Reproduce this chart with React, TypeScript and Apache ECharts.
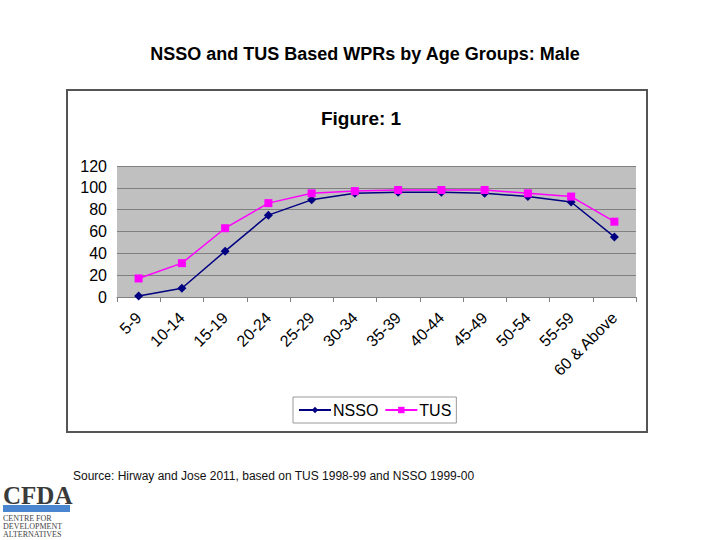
import React, { useEffect, useRef } from "react";
import * as echarts from "echarts";

const categories = ["5-9", "10-14", "15-19", "20-24", "25-29", "30-34", "35-39", "40-44", "45-49", "50-54", "55-59", "60 & Above"];
const nssoValues = [1, 8, 42, 75, 89, 95, 96, 96, 95, 92, 87, 55];
const tusValues = [17, 31, 63, 86, 95, 97, 98, 98, 98, 95, 92, 69];
const yTicks = [0, 20, 40, 60, 80, 100, 120];

export default function App() {
  const ref = useRef<HTMLDivElement>(null);
  useEffect(() => {
    const chart = echarts.init(ref.current!, null, { renderer: "svg" });
    chart.setOption({
      animation: false,
      backgroundColor: "#ffffff",
      textStyle: { fontFamily: "Liberation Sans, Arial, sans-serif" },
      title: [
        {
          text: "NSSO and TUS Based WPRs by Age Groups: Male",
          left: 360, top: 40, textAlign: "center",
          textStyle: { fontSize: 18, fontWeight: "bold", color: "#000", fontFamily: "Liberation Sans, Arial, sans-serif" },
        },
        {
          text: "Figure: 1",
          left: 356, top: 104, textAlign: "center",
          textStyle: { fontSize: 19, fontWeight: "bold", color: "#000", fontFamily: "Liberation Sans, Arial, sans-serif" },
        },
      ],
      graphic: [
        { type: "rect", shape: { x: 67, y: 90, width: 580, height: 342 }, style: { fill: "none", stroke: "#555", lineWidth: 2 }, z: -1 },
        {
          type: "text", x: 73, y: 470,
          style: { text: "Source: Hirway and Jose 2011, based on TUS 1998-99 and NSSO 1999-00", fontSize: 12, fill: "#111", fontFamily: "Liberation Sans, Arial, sans-serif" },
        },
        { type: "text", x: 3, y: 483, style: { text: "CFDA", fontSize: 25, fontWeight: "bold", fill: "#3a3a3a", fontFamily: "Liberation Serif, Times New Roman, serif" } },
        { type: "rect", shape: { x: 3, y: 505, width: 67, height: 7 }, style: { fill: "#4a86d0" } },
        { type: "text", x: 3, y: 514, style: { text: "CENTRE FOR", fontSize: 8, fill: "#444", fontFamily: "Liberation Serif, serif" } },
        { type: "text", x: 3, y: 522, style: { text: "DEVELOPMENT", fontSize: 8, fill: "#444", fontFamily: "Liberation Serif, serif" } },
        { type: "text", x: 3, y: 530, style: { text: "ALTERNATIVES", fontSize: 8, fill: "#444", fontFamily: "Liberation Serif, serif" } },
      ],
      legend: {
        left: 293, top: 397,
        data: ["NSSO", "TUS"],
        borderColor: "#999", borderWidth: 1,
        padding: [5, 5],
        itemGap: 6,
        itemWidth: 32, itemHeight: 8,
        textStyle: { fontSize: 16, color: "#000", padding: [0, 0, 0, -3] },
      },
      grid: { left: 117, right: 84, top: 166, bottom: 243, backgroundColor: "#c0c0c0", show: true, borderWidth: 0 },
      xAxis: {
        type: "category",
        data: categories,
        boundaryGap: true,
        axisLine: { show: true, lineStyle: { color: "#808080" } },
        axisTick: { show: true, length: 5, lineStyle: { color: "#808080" } },
        axisLabel: { rotate: 45, fontSize: 16, color: "#000", margin: 18, interval: 0 },
      },
      yAxis: {
        type: "value",
        min: yTicks[0], max: yTicks[yTicks.length - 1], interval: 20,
        axisLine: { show: false },
        axisTick: { show: false },
        axisLabel: { fontSize: 16, color: "#000", margin: 10 },
        splitLine: { lineStyle: { color: "#808080", width: 1 } },
      },
      series: [
        {
          name: "NSSO", type: "line", data: nssoValues,
          symbol: "diamond", symbolSize: 9,
          lineStyle: { color: "#000080", width: 1.5 },
          itemStyle: { color: "#000080" },
        },
        {
          name: "TUS", type: "line", data: tusValues,
          symbol: "rect", symbolSize: 8,
          lineStyle: { color: "#ff00ff", width: 1.5 },
          itemStyle: { color: "#ff00ff" },
        },
      ],
    });
    return () => chart.dispose();
  }, []);
  return <div ref={ref} style={{ position: "fixed", left: 0, top: 0, width: 720, height: 540 }} />;
}
